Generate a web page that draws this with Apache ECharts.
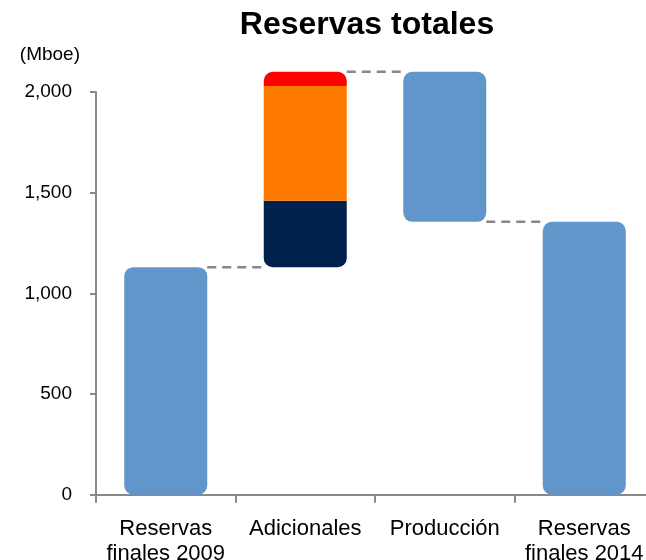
<!DOCTYPE html>
<html>
<head>
<meta charset="utf-8">
<script src="https://cdn.jsdelivr.net/npm/echarts@6/dist/echarts.min.js"></script>
<style>
html,body{margin:0;padding:0;background:#fff;}
#chart{width:646px;height:560px;}
</style>
</head>
<body>
<div id="chart"></div>
<script>
// ---- data ----
var categories = ['Reservas\nfinales 2009', 'Adicionales', 'Producción', 'Reservas\nfinales 2014'];
var baseValues = [0, 1130, 1355, 0];          // invisible waterfall base
var blueValues = [1130, '-', 745, 1355];       // reserves / production
var navyValues = ['-', 330, '-', '-'];
var orangeValues = ['-', 570, '-', '-'];
var redValues = ['-', 70, '-', '-'];
var connectorLevels = [[0, 1130], [1, 2100], [2, 1355]];
var yTicks = [0, 500, 1000, 1500, 2000];

var BAR_W = 83;
var FONT = '"Liberation Sans", Arial, sans-serif';

var chart = echarts.init(document.getElementById('chart'), null, {renderer: 'canvas'});

function fmt(v) { return String(v).replace(/\B(?=(\d{3})+(?!\d))/g, ','); }

var option = {
  animation: false,
  backgroundColor: '#ffffff',
  title: {
    text: 'Reservas totales',
    left: 362,
    top: 4,
    textAlign: 'center',
    textStyle: {fontFamily: FONT, fontSize: 32, fontWeight: 'bold', color: '#000'}
  },
  grid: {left: 96, right: -8, top: 92, bottom: 65.3, containLabel: false, outerBoundsMode: 'none'},
  xAxis: {
    type: 'category',
    data: categories,
    axisLine: {lineStyle: {color: '#898989', width: 2}},
    axisTick: {show: true, length: 8, lineStyle: {color: '#898989', width: 2}},
    axisLabel: {fontFamily: FONT, fontSize: 22, lineHeight: 25, color: '#000', margin: 22, interval: 0}
  },
  yAxis: {
    type: 'value',
    min: yTicks[0],
    max: yTicks[yTicks.length - 1],
    interval: 500,
    name: '(Mboe)',
    nameLocation: 'end',
    nameGap: 28,
    nameTextStyle: {fontFamily: FONT, fontSize: 19, color: '#000', align: 'right', padding: [0, 16, 0, 0]},
    axisLine: {show: true, lineStyle: {color: '#898989', width: 2}},
    axisTick: {show: true, length: 6, lineStyle: {color: '#898989', width: 2}},
    splitLine: {show: false},
    axisLabel: {fontFamily: FONT, fontSize: 19, color: '#000', margin: 24, formatter: fmt}
  },
  series: [
    {
      type: 'bar', stack: 'w', barWidth: BAR_W, silent: true, clip: false,
      itemStyle: {color: 'transparent'},
      data: baseValues
    },
    {
      type: 'bar', stack: 'w', barWidth: BAR_W, clip: false,
      itemStyle: {color: '#6196CB', borderRadius: 9},
      data: blueValues
    },
    {
      type: 'bar', stack: 'w', barWidth: BAR_W, clip: false,
      itemStyle: {color: '#00214D', borderRadius: [0, 0, 9, 9]},
      data: navyValues
    },
    {
      type: 'bar', stack: 'w', barWidth: BAR_W, clip: false,
      itemStyle: {color: '#FF7B00', borderRadius: 0},
      data: orangeValues
    },
    {
      type: 'bar', stack: 'w', barWidth: BAR_W, clip: false,
      itemStyle: {color: '#FF0000', borderRadius: [9, 9, 0, 0]},
      data: redValues
    },
    {
      type: 'custom',
      silent: true,
      clip: false,
      data: connectorLevels,
      renderItem: function (params, api) {
        var i = api.value(0);
        var lvl = api.value(1);
        var p = api.coord([i, lvl]);
        var w = api.size([1, 0])[0];
        var x1 = p[0] + BAR_W / 2;
        var x2 = p[0] + w - BAR_W / 2;
        return {
          type: 'line',
          shape: {x1: x1, y1: p[1], x2: x2, y2: p[1]},
          style: {stroke: '#878787', lineWidth: 2.5, lineDash: [9, 6]}
        };
      },
      z: 1
    }
  ]
};
chart.setOption(option);
</script>
</body>
</html>
